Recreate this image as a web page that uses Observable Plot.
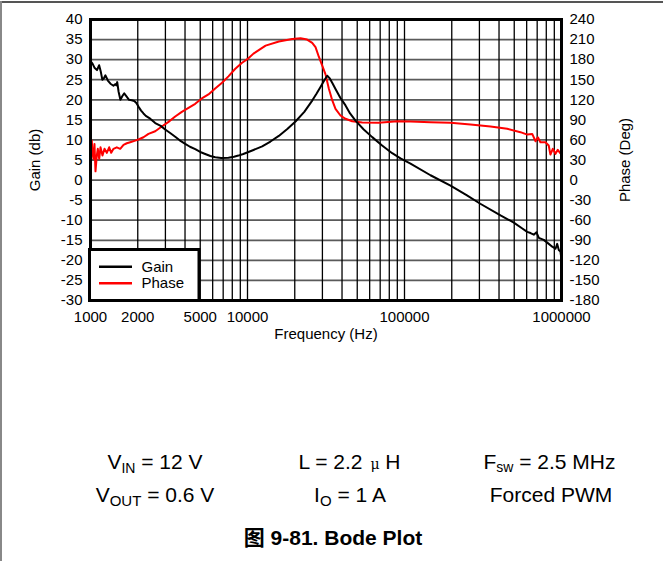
<!DOCTYPE html>
<html><head><meta charset="utf-8">
<script src="https://cdn.jsdelivr.net/npm/d3@7"></script>
<script src="https://cdn.jsdelivr.net/npm/@observablehq/plot@0.6"></script>
<style>
body{margin:0;background:#fff;}
#page{position:relative;width:663px;height:561px;overflow:hidden;background:#fff;font-family:'Liberation Sans',Arial,sans-serif;}
#page > *{position:absolute;}
</style></head><body><div id="page"></div>
<script>
// ---- data ----
const gainFreq = [1000,1030,1060,1100,1135,1160,1190,1215,1245,1290,1340,1400,1437,1460,1480,1510,1550,1600,1640,1700,1760,1830,1900,1960,2020,2100,2175,2250,2400,2584,2800,2991,3200,3464,3700,4012,4300,4645,5000,5378,5800,6227,6800,7561,8200,8758,9400,10141,10915,12403,14000,15830,18000,20218,23000,25833,27500,29174,30800,32190,33300,34700,36350,39000,42100,45000,48740,55000,62290,72000,83500,94300,109200,146400,196400,250000,304000,408800,497000,560000,604600,634600,666000,693000,717000,771000,830000,873000,915800,939000,961000,985000,1000000];
const gainDb = [29.6,29.0,28.0,27.4,28.6,27.2,25.0,25.3,26.1,24.8,24.0,23.5,23.9,23.6,24.4,22.0,20.0,21.0,21.6,20.8,20.0,19.9,19.7,19.2,18.3,17.3,16.6,16.0,15.3,14.2,13.5,12.6,11.8,10.8,9.9,9.0,8.3,7.7,7.0,6.5,6.0,5.7,5.5,5.55,5.8,6.1,6.5,7.0,7.5,8.4,9.6,11.0,12.8,14.6,17.0,19.8,21.5,23.2,24.8,26.0,25.4,24.2,22.7,20.5,18.6,16.6,14.8,12.6,10.7,8.6,6.7,5.4,4.1,1.2,-1.4,-3.8,-5.9,-8.8,-10.6,-12.0,-12.9,-13.2,-13.6,-13.0,-14.4,-14.9,-15.9,-16.6,-17.1,-15.9,-17.4,-17.8,-19.8];

const phaseFreq = [1000,1019,1030,1045,1060,1076,1097,1113,1136,1158,1192,1228,1270,1315,1355,1401,1470,1546,1623,1703,1790,1926,2020,2175,2340,2584,2846,3140,3464,3816,4210,4645,5118,5640,6227,6855,7561,8334,9190,10141,10915,13040,15850,19260,21760,23970,25830,27120,28500,29930,31400,32950,34680,36350,39090,42100,46400,53780,68620,89850,109200,146400,196400,263300,353000,451000,548000,604600,650800,683600,706800,734000,790000,829000,850000,880000,915800,947000,984000,1000000];
const phaseDeg = [58,59,40,31.8,54,13,36.7,46.7,31.8,49,36.7,46.7,40.7,49,40.7,46.7,49,46.7,52.7,55,56.6,59,60.6,64,69,73,80,87,95,102,108,114,122,128,137,145,155,166,175,182,189,201,207,211,212,210,205,198.6,184,171,158,137,119,106.5,96.5,91.6,88,86,85.6,88,87.5,86.5,85.6,83,80,76.6,71.6,68,69,58,64,56.6,56.6,51.7,38.2,46.7,39.2,45.2,40,42];

const gridFreq = [1000,2000,3000,4000,5000,6000,7000,8000,9000,10000,20000,30000,40000,50000,60000,70000,80000,90000,100000,200000,300000,400000,500000,600000,700000,800000,900000,1000000];
const freqTickLabels = [1000,2000,5000,10000,100000,1000000];
const gainTicks = [-30,-25,-20,-15,-10,-5,0,5,10,15,20,25,30,35,40];
const phaseTicks = [-180,-150,-120,-90,-60,-30,0,30,60,90,120,150,180,210,240];
const legendNames = ["Gain","Phase"];
const legendColors = ["#000000","#ff0000"];
const degPerDb = 6; // phase axis spans 420 deg over the 70 dB gain axis

const gain = gainFreq.map((f,i)=>({f, v: gainDb[i]}));
const phase = phaseFreq.map((f,i)=>({f, v: phaseDeg[i] / degPerDb}));

const page = document.getElementById("page");

const chart = Plot.plot({
  width: 663, height: 345,
  marginLeft: 90, marginRight: 102, marginTop: 19, marginBottom: 45,
  style: {fontFamily: "'Liberation Sans', Arial, sans-serif", fontSize: "15px", color: "#000", background: "transparent", overflow: "visible"},
  x: {type: "log", domain: [1000, 1000000], axis: null},
  y: {domain: [-30, 40], axis: null},
  marks: [
    Plot.ruleY(gainTicks, {stroke: "#5a5a5a", strokeWidth: 1.8}),
    Plot.ruleX(gridFreq, {stroke: "#000", strokeWidth: 1.3}),
    Plot.line(phase, {x: "f", y: "v", stroke: "#ff0000", strokeWidth: 2}),
    Plot.line(gain, {x: "f", y: "v", stroke: "#000", strokeWidth: 2}),
    Plot.frame({stroke: "#000", strokeWidth: 3}),
    Plot.axisY({anchor: "left", ticks: gainTicks, tickFormat: d => String(d), tickSize: 0, tickPadding: 8, label: null}),
    Plot.axisY({anchor: "right", ticks: phaseTicks.map(p => p / degPerDb), tickFormat: d => String(Math.round(d * degPerDb)), tickSize: 0, tickPadding: 8, label: null}),
    Plot.text(freqTickLabels, {x: d => d, text: d => String(d), frameAnchor: "bottom", lineAnchor: "top", textAnchor: "middle", dy: 11}),
    Plot.text(["Gain (db)"], {text: d => d, frameAnchor: "left", textAnchor: "middle", lineAnchor: "middle", dx: -55, rotate: -90}),
    Plot.text(["Phase (Deg)"], {text: d => d, frameAnchor: "right", textAnchor: "middle", lineAnchor: "middle", dx: 64, rotate: -90}),
    Plot.text(["Frequency (Hz)"], {text: d => d, frameAnchor: "bottom", textAnchor: "middle", lineAnchor: "middle", dy: 34})
  ]
});
chart.style.left = "0px"; chart.style.top = "0px";
page.appendChild(chart);

// legend
const NS = "http://www.w3.org/2000/svg";
const leg = document.createElementNS(NS, "svg");
leg.setAttribute("width", 113); leg.setAttribute("height", 54);
leg.style.left = "88px"; leg.style.top = "248px";
leg.innerHTML = `<rect x="1.5" y="1.5" width="109.5" height="51" fill="#fff" stroke="#000" stroke-width="3"/>` +
  legendNames.map((n,i)=>`<line x1="11" x2="44" y1="${18.7 + i*16.6}" y2="${18.7 + i*16.6}" stroke="${legendColors[i]}" stroke-width="2.5"/>` +
  `<text x="53.5" y="${23.7 + i*16.6}" font-family="'Liberation Sans', Arial, sans-serif" font-size="15" fill="#000">${n}</text>`).join("");
page.appendChild(leg);

// conditions caption and figure title
const cap = document.createElementNS(NS, "svg");
cap.setAttribute("width", 663); cap.setAttribute("height", 131);
cap.style.left = "0px"; cap.style.top = "430px";
cap.setAttribute("font-family", "'Liberation Sans', Arial, 'Noto Sans CJK SC', sans-serif");
cap.setAttribute("font-size", "21");
cap.setAttribute("text-anchor", "middle");
cap.innerHTML = `
<text x="155" y="39">V<tspan dy="4" font-size="14">IN</tspan><tspan dy="-4"> = 12 V</tspan></text>
<text x="155" y="72.3">V<tspan dy="4" font-size="15">OUT</tspan><tspan dy="-4"> = 0.6 V</tspan></text>
<text x="349.5" y="39">L = 2.2 <tspan font-family="'DejaVu Serif', serif" font-size="14" dx="2">μ</tspan> H</text>
<text x="350" y="72.3">I<tspan dy="4" font-size="15">O</tspan><tspan dy="-4"> = 1 A</tspan></text>
<text x="549.5" y="39">F<tspan dy="3" font-size="14">sw</tspan><tspan dy="-3"> = 2.5 MHz</tspan></text>
<text x="551" y="72.3">Forced PWM</text>
<text x="333" y="115" font-weight="bold">图 9-81. Bode Plot</text>`;
page.appendChild(cap);

// page border (top and left)
const bt = document.createElement("div");
bt.style.cssText = "left:0;top:1px;width:663px;height:2px;background:#555;";
page.appendChild(bt);
const bl = document.createElement("div");
bl.style.cssText = "left:0;top:1px;width:1.5px;height:560px;background:#888;";
page.appendChild(bl);
</script></body></html>
